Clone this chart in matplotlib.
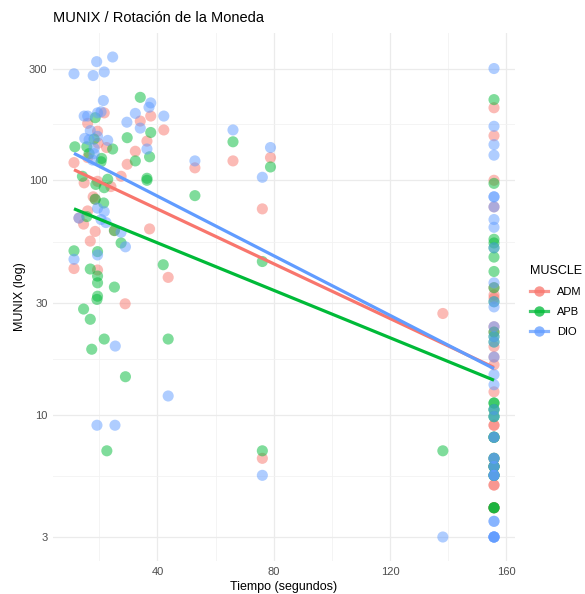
import numpy as np
import matplotlib.pyplot as plt
from matplotlib.lines import Line2D

plt.rcParams['font.family'] = ['Liberation Sans', 'DejaVu Sans']

# Datos (tiempo en segundos, MUNIX)
# muchos puntos en t=155.8 se superponen
adm_t = [21.7, 16.0, 19.4, 19.6, 22.5, 34.1, 37.7, 42.2, 36.4, 32.4, 16.0, 29.6, 11.3,
         52.9, 19.4, 14.8, 24.0, 27.5, 17.9, 18.6, 16.0, 14.6, 18.6, 16.9, 25.2, 37.3,
         11.3, 19.4, 28.9, 43.7, 66.0, 78.9, 76.1, 76.1, 138.2, 13.0,
         155.8, 155.8, 155.8, 155.8, 155.8, 155.8, 155.8, 155.8, 155.8, 155.8, 155.8,
         155.8, 155.8, 155.8, 155.8, 155.8,
         155.8, 155.8, 155.8, 155.8, 155.8, 155.8, 155.8, 155.8, 155.8]
adm_v = [194, 175, 162, 144, 138, 179, 188, 164, 147, 133, 125, 117, 119,
         113, 99, 97.5, 94, 104, 85, 83, 74, 65, 60.5, 55, 61, 62,
         42, 41.4, 29.7, 38.5, 121, 125, 75.5, 6.5, 27, 69,
         204, 155, 100, 77, 34.8, 32.4, 31.4, 23.7, 22.5, 19.5, 17.6,
         16.3, 12.5, 9.0, 5.0, 4.0,
         8.0, 6.5, 6.0, 5.5, 4.0, 4.0, 9.0, 5.0, 6.0]

apb_t = [34.1, 18.6, 11.6, 15.7, 24.6, 29.6, 37.7, 37.3, 32.4, 20.8, 36.4, 14.2, 18.8,
         21.7, 22.9, 36.4, 52.9, 18.6, 21.5, 15.7, 27.5, 11.3, 19.4, 16.9, 19.4, 19.4,
         25.2, 19.4, 19.2, 14.6, 16.9, 21.7, 17.4, 43.7, 42.0, 76.1, 29.0, 22.6, 76.1,
         138.2, 66.0, 78.9, 25.2, 18.2, 16.5, 20.6,
         155.8, 155.8, 155.8, 155.8, 155.8, 155.8, 155.8, 155.8, 155.8, 155.8, 155.8,
         155.8, 155.8, 155.8, 155.8, 155.8, 155.8, 155.8, 155.8, 155.8,
         155.8, 155.8, 155.8, 155.8, 155.8, 155.8, 155.8, 155.8,
         155.8, 155.8, 155.8, 155.8]
apb_v = [226, 185, 139, 139, 136, 152, 160, 126, 121, 124, 102, 104, 96,
         93, 101, 100, 86, 83, 80, 70, 54, 50, 49.6, 41.8, 39, 36.5,
         35, 32, 31, 28.2, 25.5, 21, 19, 21, 43.6, 45, 14.5, 7.0, 7.0,
         7.0, 146, 114, 61, 150, 130, 120,
         221, 97, 56, 54, 51.5, 47, 40.8, 34.8, 30.3, 22.5, 21.5,
         20.4, 11.2, 10.5, 9.8, 8.0, 6.5, 6.0, 5.5, 4.0,
         8.0, 6.5, 6.0, 5.5, 4.0, 10.5, 9.8, 11.2,
         8.0, 6.0, 5.5, 4.0]

dio_t = [24.6, 19.1, 21.7, 11.3, 17.9, 21.4, 37.7, 37.1, 32.4, 29.5, 42.2, 34.1, 14.8,
         16.0, 20.6, 19.4, 16.9, 15.0, 16.5, 19.4, 22.9, 18.2, 36.4, 18.2, 17.7, 52.9,
         66.0, 78.9, 76.1, 19.4, 13.0, 21.7, 20.6, 22.3, 27.5, 29.0, 11.3, 19.4, 25.5,
         43.7, 19.2, 25.4, 76.1, 138.2,
         155.8, 155.8, 155.8, 155.8, 155.8, 155.8, 155.8, 155.8, 155.8, 155.8, 155.8,
         155.8, 155.8, 155.8, 155.8, 155.8, 155.8, 155.8, 155.8, 155.8, 155.8, 155.8,
         155.8, 155.8, 155.8, 155.8, 155.8, 155.8,
         155.8, 155.8, 155.8, 155.8, 155.8, 155.8, 155.8, 155.8, 155.8]
dio_v = [336, 321, 290, 285, 280, 219, 214, 205, 193, 177, 188, 167, 188,
         188, 196, 194, 163, 151, 149, 154, 148, 137, 136, 130, 122, 121,
         164, 138, 103, 76, 69, 73.5, 68, 66, 60, 52, 46, 48, 19.6,
         12, 9.0, 9.0, 5.5, 3.0,
         300, 170, 142, 128, 85, 85, 77, 68, 63, 51.5, 36.5,
         30.3, 28.8, 23.7, 21.5, 20.4, 17.6, 14.8, 13.4, 10.5, 9.8,
         8.0, 6.5, 6.0, 5.5, 3.5, 3.0, 3.0,
         3.0, 3.0, 3.0, 3.5, 6.0, 6.5, 5.5, 8.0, 5.5]

muscles = ['ADM', 'APB', 'DIO']
colores = ['#F8766D', '#00BA38', '#619CFF']
datos = [(adm_t, adm_v), (apb_t, apb_v), (dio_t, dio_v)]

y_breaks = [3, 10, 30, 100, 300]
x_breaks = [40, 80, 120, 160]

fig = plt.figure(figsize=(5.85, 5.94), dpi=100)
ax = fig.add_axes([53/585, 1 - 561/594, 462/585, 528/594])

# puntos
for (t, v), c in zip(datos, colores):
    ax.scatter(t, v, s=64, color=c, alpha=0.5, edgecolors='none', zorder=3)

# rectas de regresion (lm sobre log10)
for (t, v), c in zip(datos, colores):
    t = np.array(t)
    v = np.array(v)
    b, a = np.polyfit(t, np.log10(v), 1)
    xx = np.array([t.min(), t.max()])
    ax.plot(xx, 10**(a + b*xx), color=c, lw=2.3, zorder=4, solid_capstyle='butt')

ax.set_yscale('log')

# limites con 5% de expansion como ggplot
todos_t = np.concatenate([adm_t, apb_t, dio_t])
todos_v = np.log10(np.concatenate([adm_v, apb_v, dio_v]))
rt = todos_t.max() - todos_t.min()
rv = todos_v.max() - todos_v.min()
ax.set_xlim(todos_t.min() - 0.05*rt, todos_t.max() + 0.05*rt)
ax.set_ylim(10**(todos_v.min() - 0.05*rv), 10**(todos_v.max() + 0.05*rv))

ax.set_yticks(y_breaks)
ax.set_yticklabels([str(b) for b in y_breaks])
ax.yaxis.set_minor_locator(plt.FixedLocator(
    [np.sqrt(y_breaks[i]*y_breaks[i+1]) for i in range(len(y_breaks)-1)]))
ax.yaxis.set_minor_formatter(plt.NullFormatter())
ax.set_xticks(x_breaks)
ax.set_xticks([20, 60, 100, 140], minor=True)

ax.grid(True, which='major', color='#EBEBEB', lw=0.9)
ax.grid(True, which='minor', color='#F2F2F2', lw=0.6)
ax.set_axisbelow(True)
for s in ax.spines.values():
    s.set_visible(False)
ax.tick_params(which='both', length=0, labelsize=8, labelcolor='#4D4D4D', pad=4)

ax.set_xlabel('Tiempo (segundos)', fontsize=9, labelpad=3)
ax.set_ylabel('MUNIX (log)', fontsize=9, labelpad=2)
fig.text(53/585, 1 - 18/594, 'MUNIX / Rotación de la Moneda', fontsize=10.5, va='center', ha='left')

handles = [Line2D([], [], color=c, lw=2.3, marker='o', markersize=7.5,
                  markerfacecolor=c, markeredgecolor='none', alpha=0.75)
           for c in colores]
leg = fig.legend(handles, muscles, title='MUSCLE', loc='upper left',
                 bbox_to_anchor=(520/585, 1 - 255/594), frameon=False,
                 fontsize=8, title_fontsize=9, handlelength=1.6,
                 labelspacing=0.9, alignment='left', handletextpad=0.8)

plt.savefig('out.png', dpi=100)
